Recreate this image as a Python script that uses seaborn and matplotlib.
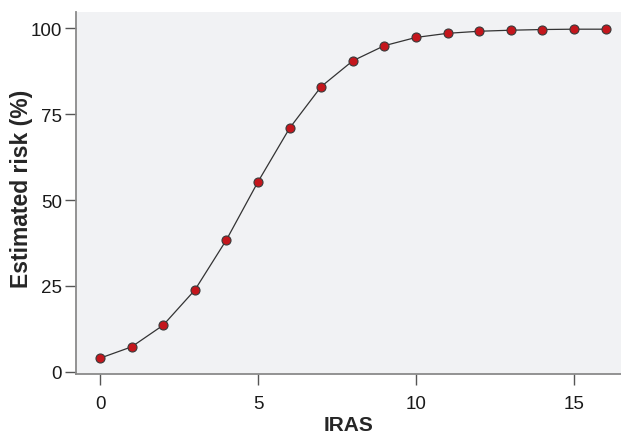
import numpy as np
import pandas as pd
import matplotlib
matplotlib.use("Agg")
import matplotlib.pyplot as plt
import seaborn as sns

# Data
iras = [0, 1, 2, 3, 4, 5, 6, 7, 8, 9, 10, 11, 12, 13, 14, 15, 16]
risk = [4.0, 7.3, 13.6, 23.8, 38.4, 55.3, 70.9, 83.0, 90.5, 94.9, 97.3, 98.5, 99.1, 99.4, 99.6, 99.7, 99.7]
x_ticks = [0, 5, 10, 15]
y_ticks = [0, 25, 50, 75, 100]

df = pd.DataFrame({"IRAS": iras, "risk": risk})

sns.set_style("white")
plt.rcParams["font.family"] = ["Liberation Sans", "DejaVu Sans"]

fig = plt.figure(figsize=(6.21, 4.35), dpi=100)
ax = fig.add_axes([76 / 621, 60 / 435, 545 / 621, 362 / 435])
ax.set_facecolor("#f1f2f4")

sns.lineplot(data=df, x="IRAS", y="risk", ax=ax, color="#333333", linewidth=0.9,
             marker="o", markersize=6.5, markerfacecolor="#c4161c",
             markeredgecolor="#3a3a3a", markeredgewidth=0.8)

ax.set_xlim(-0.76, 16.49)
ax.set_ylim(-0.6, 104.7)
ax.set_xticks(x_ticks)
ax.set_yticks(y_ticks)

for side in ["top", "right"]:
    ax.spines[side].set_visible(False)
for side in ["left", "bottom"]:
    ax.spines[side].set_color("#8a8a8a")
    ax.spines[side].set_linewidth(1.3)

ax.tick_params(axis="both", direction="out", length=8, width=1, color="#555555",
               labelsize=13.5, labelcolor="#1a1a1a", bottom=True, left=True)
ax.tick_params(axis="x", pad=7)
ax.tick_params(axis="y", pad=2)

ax.set_xlabel("IRAS", fontsize=15, fontweight="bold")
ax.set_ylabel("Estimated risk (%)", fontsize=16.5, fontweight="bold")
ax.xaxis.set_label_coords(0.5, -0.113)
ax.yaxis.set_label_coords(-0.078, 0.514)

fig.savefig("out.png", dpi=100)
